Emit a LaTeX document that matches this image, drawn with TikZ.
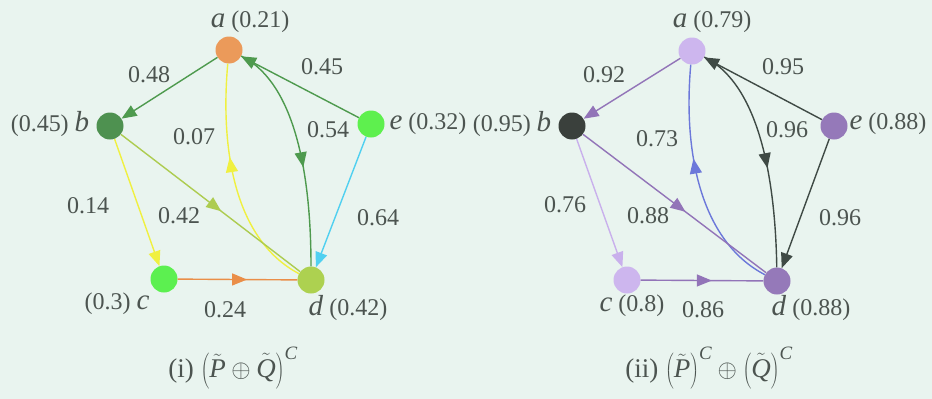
\documentclass[tikz,border=0pt]{standalone}
\usepackage{fontspec}
\setmainfont{Liberation Serif}
\usetikzlibrary{arrows.meta,decorations.markings}
\definecolor{bg}{HTML}{E9F4EF}
\definecolor{txt}{HTML}{4C5450}
\definecolor{aLc}{HTML}{EB9A5A}
\definecolor{bLc}{HTML}{4E9150}
\definecolor{cLc}{HTML}{5CF050}
\definecolor{dLc}{HTML}{ADD150}
\definecolor{eLc}{HTML}{5EF04E}
\definecolor{gE}{HTML}{4E9A4E}
\definecolor{yE}{HTML}{F0F040}
\definecolor{oE}{HTML}{EA8E48}
\definecolor{lgE}{HTML}{ADCC50}
\definecolor{cyE}{HTML}{50D0F0}
\definecolor{lavc}{HTML}{CDB6EE}
\definecolor{darkc}{HTML}{3A403C}
\definecolor{purc}{HTML}{9579B9}
\definecolor{pE}{HTML}{9274B8}
\definecolor{dkE}{HTML}{3F4A45}
\definecolor{blE}{HTML}{6C78DA}
\definecolor{lvE}{HTML}{C9B0EC}
\newcommand{\vl}[1]{{\fontsize{29}{30}\selectfont\textit{#1}}}
\tikzset{
  vtx/.style={circle,minimum size=27pt,inner sep=0pt,draw=none},
  lbl/.style={text=txt,font=\fontsize{24}{28}\selectfont,inner sep=0pt},
  wlbl/.style={text=txt,font=\fontsize{24}{28}\selectfont,inner sep=0pt},
  caplbl/.style={text=txt,font=\fontsize{27}{32}\selectfont,inner sep=0pt},
  edge/.style={line width=1.4pt},
  tipend/.style={-{Triangle[length=15pt,width=12pt]}},
  midarrow/.style={postaction={decorate},decoration={markings,
    mark=at position #1 with {\arrow{Triangle[length=15pt,width=12pt]}}}},
}
\begin{document}
\begin{tikzpicture}[x=1pt,y=-1pt]
\fill[bg] (0,0) rectangle (932,399);
\useasboundingbox (0,0) rectangle (932,399);

% ---------- left graph ----------
\node[vtx,fill=aLc] (aL) at (229,50) {};
\node[vtx,fill=bLc] (bL) at (110,126) {};
\node[vtx,fill=cLc] (cL) at (164,279) {};
\node[vtx,fill=dLc] (dL) at (311,280) {};
\node[vtx,fill=eLc] (eL) at (371,124) {};

\draw[edge,gE,tipend] (aL) -- (bL);
\draw[edge,gE,tipend] (eL) -- (aL);
\draw[edge,gE,midarrow=0.57] (aL) .. controls (290,80) and (311,160) .. (dL);
\draw[edge,yE,midarrow=0.6] (dL) .. controls (235,240) and (220,150) .. (aL);
\draw[edge,lgE,midarrow=0.56] (bL) -- (dL);
\draw[edge,oE,midarrow=0.58] (cL) -- (dL);
\draw[edge,yE,tipend] (bL) -- (cL);
\draw[edge,cyE,tipend] (eL) -- (dL);

\node[lbl] (laL) at (250,22) {\vl{a} (0.21)};
\node[lbl] (lbL) at (50,124) {(0.45) \vl{b}};
\node[lbl] (leL) at (428,124) {\vl{e} (0.32)};
\node[lbl] (lcL) at (117,304) {(0.3) \vl{c}};
\node[lbl] (ldL) at (348,308) {\vl{d} (0.42)};

\node[wlbl] (wab) at (149,75) {0.48};
\node[wlbl] (wea) at (322,67) {0.45};
\node[wlbl] (wda) at (194,137) {0.07};
\node[wlbl] (wad) at (328,130) {0.54};
\node[wlbl] (wbc) at (88,206) {0.14};
\node[wlbl] (wbd) at (179,216) {0.42};
\node[wlbl] (wed) at (378,218) {0.64};
\node[wlbl] (wcd) at (225,310) {0.24};

\node[caplbl] (capL) at (233,368)
  {(i) $\left(\tilde{\mathit{P}}\oplus\tilde{\mathit{Q}}\right)^{\mathit{C}}$};

% ---------- right graph ----------
\node[vtx,fill=lavc] (aR) at (692,51) {};
\node[vtx,fill=darkc] (bR) at (572,126) {};
\node[vtx,fill=lavc] (cR) at (627,280) {};
\node[vtx,fill=purc] (dR) at (777,281) {};
\node[vtx,fill=purc] (eR) at (834,126) {};

\draw[edge,pE,tipend] (aR) -- (bR);
\draw[edge,dkE,tipend] (eR) -- (aR);
\draw[edge,dkE,midarrow=0.57] (aR) .. controls (753,81) and (775,161) .. (dR);
\draw[edge,blE,midarrow=0.6] (dR) .. controls (700,241) and (683,151) .. (aR);
\draw[edge,pE,midarrow=0.56] (bR) -- (dR);
\draw[edge,pE,midarrow=0.58] (cR) -- (dR);
\draw[edge,lvE,tipend] (bR) -- (cR);
\draw[edge,dkE,tipend] (eR) -- (dR);

\node[lbl] (laR) at (712,22) {\vl{a} (0.79)};
\node[lbl] (lbR) at (512,124) {(0.95) \vl{b}};
\node[lbl] (leR) at (888,124) {\vl{e} (0.88)};
\node[lbl] (lcR) at (632,306) {\vl{c} (0.8)};
\node[lbl] (ldR) at (811,308) {\vl{d} (0.88)};

\node[wlbl] (vab) at (604,75) {0.92};
\node[wlbl] (vea) at (783,67) {0.95};
\node[wlbl] (vda) at (657,139) {0.73};
\node[wlbl] (vad) at (787,130) {0.96};
\node[wlbl] (vbc) at (565,205) {0.76};
\node[wlbl] (vbd) at (648,216) {0.88};
\node[wlbl] (ved) at (840,218) {0.96};
\node[wlbl] (vcd) at (703,310) {0.86};

\node[caplbl] (capR) at (709,368)
  {(ii) $\left(\tilde{\mathit{P}}\right)^{\mathit{C}}\oplus\left(\tilde{\mathit{Q}}\right)^{\mathit{C}}$};
\end{tikzpicture}
\end{document}
